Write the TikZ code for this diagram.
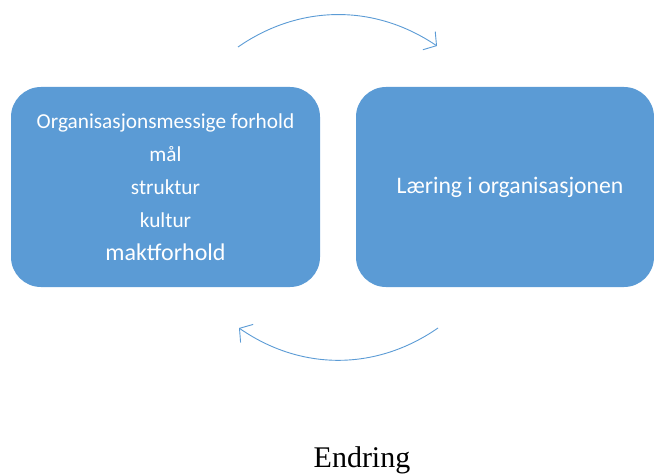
\documentclass[tikz,border=0pt]{standalone}
\usepackage{fontspec}
\setmainfont{Liberation Serif}
\newfontfamily\boxfont{Carlito}
\usepackage{tikz}
\usetikzlibrary{shapes,arrows.meta,positioning}
\definecolor{boxblue}{HTML}{5B9BD5}

\begin{document}
\begin{tikzpicture}[x=1pt,y=-1pt,
	blok/.style={fill=boxblue, rounded corners=30pt, minimum height=200pt, text=white, align=center, font=\boxfont\fontsize{21.3}{33}\selectfont},
	pil/.style={draw=boxblue, line width=0.9pt, -{Straight Barb[length=9pt,width=22pt]}}]
				\useasboundingbox (0,0) rectangle (654,476);
				\node[blok, minimum width=309pt] (org) at (165.5,187) {Organisasjonsmessige forhold\\ mål\\ struktur\\ kultur\\ {\fontsize{24}{33}\selectfont maktforhold}};
				\node[blok, minimum width=298pt, font=\boxfont\fontsize{23.7}{28}\selectfont] (laering) at (505,187) {\hspace*{10pt}Læring i organisasjonen};
				\coordinate (topp1) at (238,47);
				\coordinate (topp2) at (437,46);
				\coordinate (bunn1) at (438,328);
				\coordinate (bunn2) at (239,328);
				\draw [pil] (topp1) .. controls (300,4) and (375,4) .. (topp2);
				\draw [pil] (bunn1) .. controls (376,371) and (301,371) .. (bunn2);
				\node[font=\fontsize{30}{36}\selectfont, anchor=base] (endring) at (362,467) {Endring};
				\end{tikzpicture}
\end{document}
